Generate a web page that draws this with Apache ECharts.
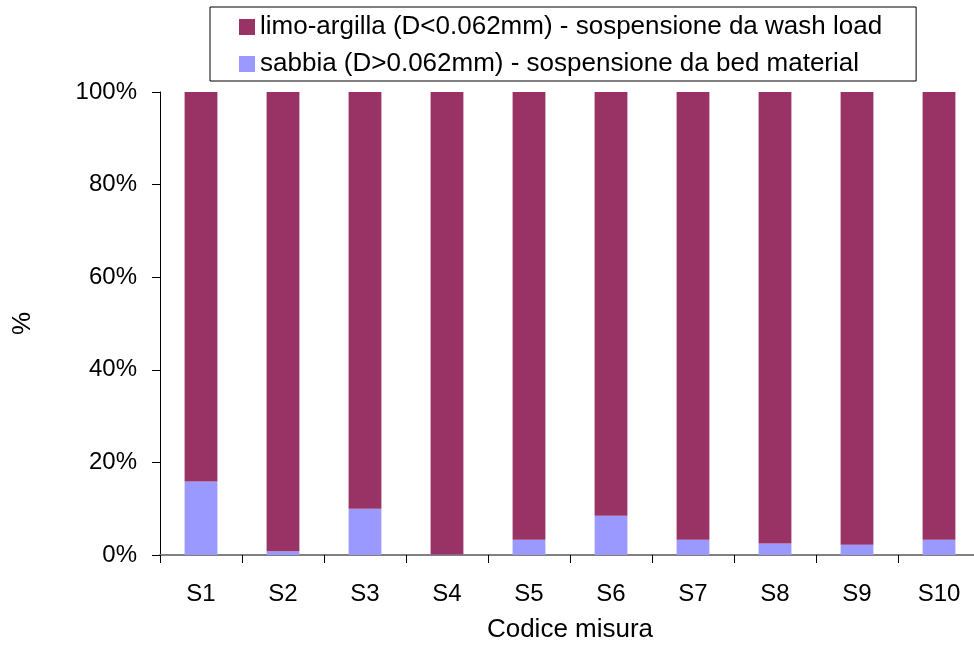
<!DOCTYPE html>
<html>
<head>
<meta charset="utf-8">
<script src="https://cdn.jsdelivr.net/npm/echarts@6/dist/echarts.min.js"></script>
<style>
  html, body { margin: 0; padding: 0; background: #fff; }
  #chart { width: 974px; height: 646px; }
</style>
</head>
<body>
<div id="chart"></div>
<script>
// Sample codes
const categories = ['S1', 'S2', 'S3', 'S4', 'S5', 'S6', 'S7', 'S8', 'S9', 'S10'];
// Sand fraction (bed material suspension), %
const sabbia = [15.9, 0.8, 10.0, 0.1, 3.3, 8.5, 3.3, 2.5, 2.2, 3.3];
// Silt-clay fraction (wash load suspension), %
const limoArgilla = [84.1, 99.2, 90.0, 99.9, 96.7, 91.5, 96.7, 97.5, 97.8, 96.7];
// Y axis tick labels
const yTicks = ['0%', '20%', '40%', '60%', '80%', '100%'];

const nameLimo = 'limo-argilla (D<0.062mm) - sospensione da wash load';
const nameSabbia = 'sabbia (D>0.062mm) - sospensione da bed material';
const font = 'Liberation Sans, Arial, sans-serif';

const chart = echarts.init(document.getElementById('chart'), null, { renderer: 'canvas' });
chart.setOption({
  animation: false,
  backgroundColor: '#ffffff',
  textStyle: { fontFamily: font },
  legend: {
    orient: 'vertical',
    left: 210,
    top: 7,
    data: [nameLimo, nameSabbia],
    itemWidth: 16,
    itemHeight: 16,
    itemGap: 11,
    padding: [7, 34, 4, 29],
    borderColor: '#000',
    borderWidth: 1,
    icon: 'rect',
    textStyle: { fontSize: 26, lineHeight: 26, color: '#000', fontFamily: font }
  },
  grid: {
    left: 160, top: 92, width: 820, height: 463,
    containLabel: false,
    outerBoundsMode: 'none'
  },
  xAxis: {
    type: 'category',
    data: categories,
    name: 'Codice misura',
    nameLocation: 'middle',
    nameGap: 62,
    nameTextStyle: { fontSize: 26, color: '#000', fontFamily: font },
    axisLine: { lineStyle: { color: '#808080', width: 2 } },
    axisTick: { show: true, length: 8, alignWithLabel: false, lineStyle: { color: '#000', width: 1 } },
    axisLabel: { fontSize: 24, color: '#000', margin: 27, fontFamily: font }
  },
  yAxis: {
    type: 'value',
    min: 0,
    max: 100,
    interval: 20,
    name: '%',
    nameLocation: 'middle',
    nameGap: 124,
    nameRotate: 90,
    nameTextStyle: { fontSize: 26, color: '#000', fontFamily: font },
    axisLine: { show: true, lineStyle: { color: '#000', width: 1 } },
    axisTick: { show: true, length: 8, inside: false, lineStyle: { color: '#000' } },
    axisLabel: {
      fontSize: 24, color: '#000', margin: 23, fontFamily: font,
      formatter: v => yTicks[Math.round(v / 20)]
    },
    splitLine: { show: false }
  },
  series: [
    {
      name: nameSabbia,
      type: 'bar',
      stack: 'tot',
      data: sabbia,
      barWidth: '40%',
      itemStyle: { color: '#9999FF' }
    },
    {
      name: nameLimo,
      type: 'bar',
      stack: 'tot',
      data: limoArgilla,
      barWidth: '40%',
      itemStyle: { color: '#993366' }
    }
  ]
});
</script>
</body>
</html>
